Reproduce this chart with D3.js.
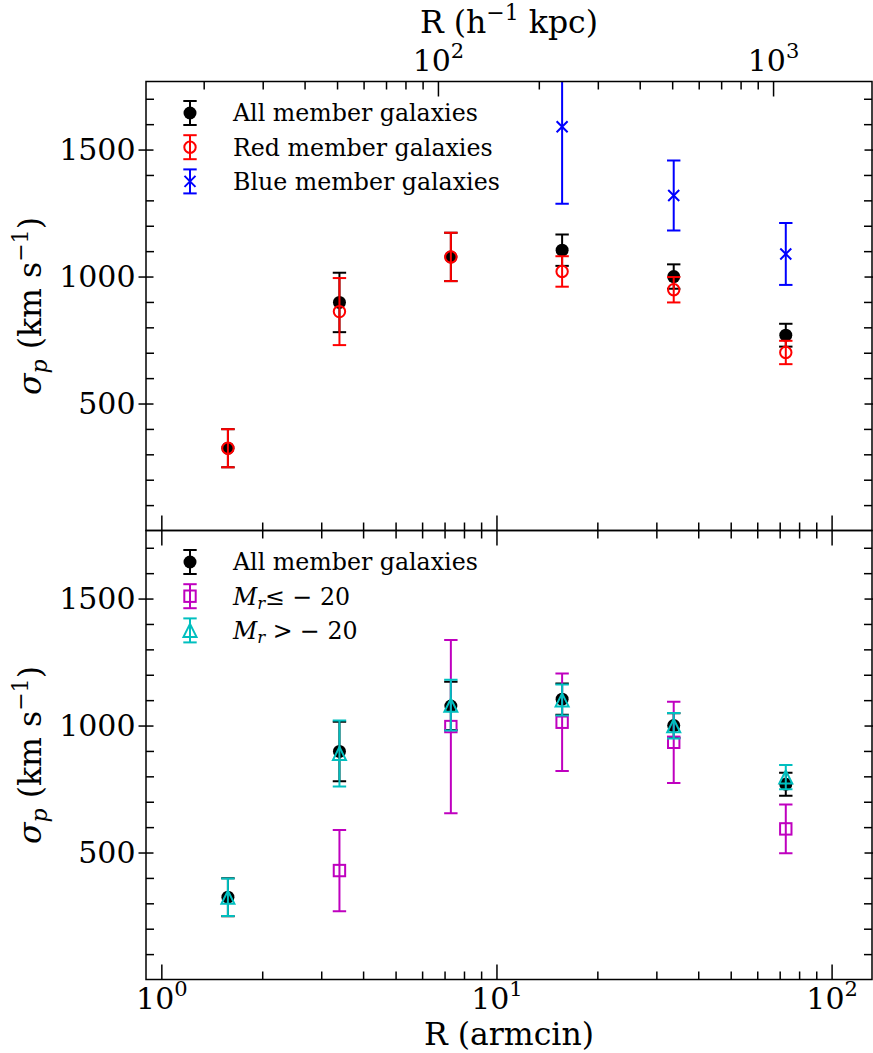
<!DOCTYPE html>
<html>
<head>
<meta charset="utf-8">
<script src="https://cdn.jsdelivr.net/npm/d3@7"></script>
<style>
  body { margin: 0; background: #fff; }
  svg { display: block; font-family: "DejaVu Serif", serif; }
</style>
</head>
<body>
<svg id="chart" width="873" height="1053"></svg>
<script>
// radial bins, projected radius in arcmin
const radiusArcmin = [1.58, 3.40, 7.31, 15.7, 33.8, 73.0];

// velocity dispersion (km/s) and 1-sigma errors per bin
const allSigma = [324, 898, 1077, 1104, 1000, 769];
const allErr = [75, 117, 95, 62, 48, 45];
const redSigma = [324, 862, 1077, 1020, 948, 701];
const redErr = [75, 132, 95, 60, 50, 46];
// blue members only populate the outer three bins
const blueRadius = radiusArcmin.slice(3);
const blueSigma = [1590, 1319, 1089];
const blueErr = [303, 138, 122];
// bright members (M_r <= -20) start at the second bin
const brightRadius = radiusArcmin.slice(1);
const brightSigma = [429, 996, 1013, 934, 593];
const brightErr = [160, 341, 192, 160, 96];
const faintSigma = [324, 890, 1080, 1101, 999, 797];
const faintErr = [74, 130, 100, 61, 50, 48];

// arcmin -> h^-1 kpc, for the secondary axis
const kpcPerArcmin = 14.95;

const arcminMajor = [1, 10, 100];
const kpcMajor = [100, 1000];
const sigmaMajor = [500, 1000, 1500];
const sigmaMinor = d3.range(100, 1800, 100).filter((v) => !sigmaMajor.includes(v));

const svg = d3.select("#chart");
const plotLeft = 146;
const plotRight = 872;
const panels = [
  { top: 81.5, bottom: 530.5 },
  { top: 530.5, bottom: 979.5 },
];
const sigmaDomain = [0, 1768];
const fontTick = 30;
const fontTitle = 31.5;
const fontLegend = 23.7;

const x = d3.scaleLog().domain([0.9, 132]).range([plotLeft, plotRight]);
const xKpc = d3
  .scaleLog()
  .domain(x.domain().map((d) => d * kpcPerArcmin))
  .range(x.range());

const topSeries = [
  { label: "All member galaxies", radius: radiusArcmin, sigma: allSigma, err: allErr, color: "#000000", marker: "dot" },
  { label: "Red member galaxies", radius: radiusArcmin, sigma: redSigma, err: redErr, color: "#ff0000", marker: "ring" },
  { label: "Blue member galaxies", radius: blueRadius, sigma: blueSigma, err: blueErr, color: "#0000ff", marker: "cross" },
];
const bottomSeries = [
  { label: "All member galaxies", radius: radiusArcmin, sigma: allSigma, err: allErr, color: "#000000", marker: "dot" },
  { label: "\u2264 \u2212 20", mag: true, radius: brightRadius, sigma: brightSigma, err: brightErr, color: "#bf00bf", marker: "square" },
  { label: " > \u2212 20", mag: true, radius: radiusArcmin, sigma: faintSigma, err: faintErr, color: "#00bfbf", marker: "triangle" },
];

/* draw one marker symbol centred on the current group */
function drawMarker(g, type, color) {
  if (type === "dot") {
    g.append("circle").attr("r", 6.5).attr("fill", color);
  } else if (type === "ring") {
    g.append("circle").attr("r", 5.7).attr("fill", "none").attr("stroke", color).attr("stroke-width", 2);
  } else if (type === "cross") {
    g.append("path").attr("d", "M-5.5,-5.5L5.5,5.5M-5.5,5.5L5.5,-5.5").attr("stroke", color).attr("stroke-width", 2);
  } else if (type === "square") {
    g.append("rect").attr("x", -5.7).attr("y", -5.7).attr("width", 11.4).attr("height", 11.4)
      .attr("fill", "none").attr("stroke", color).attr("stroke-width", 2);
  } else if (type === "triangle") {
    g.append("path").attr("d", "M0,-6.5L6.5,6.5L-6.5,6.5Z")
      .attr("fill", "none").attr("stroke", color).attr("stroke-width", 2);
  }
}

/* vertical error bar with caps, from y1 to y2 at cx */
function drawBar(g, cx, y1, y2, color) {
  g.append("line").attr("x1", cx).attr("x2", cx).attr("y1", y1).attr("y2", y2)
    .attr("stroke", color).attr("stroke-width", 2);
  [y1, y2].forEach((yy) => {
    g.append("line").attr("x1", cx - 6.7).attr("x2", cx + 6.7).attr("y1", yy).attr("y2", yy)
      .attr("stroke", color).attr("stroke-width", 2);
  });
}

/* label major log ticks as 10^n */
function powerLabels(axisG, size) {
  axisG.selectAll(".tick text").each(function (d) {
    const t = d3.select(this).text(null);
    t.append("tspan").text("10");
    t.append("tspan").text(Math.round(Math.log10(d))).attr("font-size", size * 0.7).attr("dy", -size * 0.42);
  });
}

function isMajor(v, majors) {
  return majors.some((m) => Math.abs(m - v) / m < 1e-6);
}

function tickFont(g) {
  g.attr("font-family", "DejaVu Serif").attr("font-size", fontTick);
}

/* x ticks on one spine, minor + major, inward */
function drawXTicks(scale, majors, yPos, orient, withLabels) {
  const axisFn = orient === "bottom" ? d3.axisBottom : d3.axisTop;
  const [d0, d1] = scale.domain();
  const minors = scale.ticks().filter((v) => v > d0 * 1.001 && v < d1 * 0.999 && !isMajor(v, majors));
  svg.append("g")
    .attr("transform", `translate(0,${yPos})`)
    .call(axisFn(scale).tickValues(minors).tickSize(-8).tickFormat(""))
    .call((g) => g.select(".domain").remove())
    .selectAll("line").attr("stroke-width", 1.5);
  const majorG = svg.append("g")
    .attr("transform", `translate(0,${yPos})`)
    .call(axisFn(scale).tickValues(majors).tickSize(-15).tickPadding(orient === "bottom" ? 8 : 11).tickFormat(""))
    .call((g) => g.select(".domain").remove())
    .call(tickFont);
  majorG.selectAll("line").attr("stroke-width", 1.5);
  if (withLabels) powerLabels(majorG, fontTick);
  else majorG.selectAll("text").remove();
}

/* one stacked panel: frame, ticks, error bars, legend */
function drawPanel(panel, series, index) {
  const y = d3.scaleLinear().domain(sigmaDomain).range([panel.bottom, panel.top]);
  const clipId = `clip-${index}`;
  svg.append("clipPath").attr("id", clipId)
    .append("rect")
    .attr("x", plotLeft).attr("y", panel.top)
    .attr("width", plotRight - plotLeft).attr("height", panel.bottom - panel.top);

  // left: major ticks cross the spine, minors point inward
  svg.append("g")
    .attr("transform", `translate(${plotLeft + 7.5},0)`)
    .call(d3.axisLeft(y).tickValues(sigmaMajor).tickSize(15).tickPadding(3).tickFormat(d3.format("d")))
    .call((g) => g.select(".domain").remove())
    .call(tickFont)
    .selectAll("line").attr("stroke-width", 1.5);
  svg.append("g")
    .attr("transform", `translate(${plotLeft},0)`)
    .call(d3.axisLeft(y).tickValues(sigmaMinor).tickSize(-8).tickFormat(""))
    .call((g) => g.select(".domain").remove())
    .selectAll("line").attr("stroke-width", 1.5);
  // right side mirrors the left, no labels
  svg.append("g")
    .attr("transform", `translate(${plotRight - 7.5},0)`)
    .call(d3.axisRight(y).tickValues(sigmaMajor).tickSize(15).tickFormat(""))
    .call((g) => g.select(".domain").remove())
    .selectAll("line").attr("stroke-width", 1.5);
  svg.append("g")
    .attr("transform", `translate(${plotRight},0)`)
    .call(d3.axisRight(y).tickValues(sigmaMinor).tickSize(-8).tickFormat(""))
    .call((g) => g.select(".domain").remove())
    .selectAll("line").attr("stroke-width", 1.5);

  // x ticks: top panel carries the kpc axis on its top spine
  if (index === 0) {
    drawXTicks(xKpc, kpcMajor, panel.top, "top", true);
    drawXTicks(x, arcminMajor, panel.bottom, "bottom", false);
  } else {
    drawXTicks(x, arcminMajor, panel.top, "top", false);
    drawXTicks(x, arcminMajor, panel.bottom, "bottom", true);
  }

  // error bars
  const dataG = svg.append("g").attr("clip-path", `url(#${clipId})`);
  series.forEach((s) => {
    const pts = s.radius.map((r, i) => ({ r, v: s.sigma[i], e: s.err[i] }));
    const sg = dataG.append("g");
    pts.forEach((d) => drawBar(sg, x(d.r), y(d.v - d.e), y(d.v + d.e), s.color));
    sg.selectAll("g.marker")
      .data(pts)
      .join("g")
      .attr("class", "marker")
      .attr("transform", (d) => `translate(${x(d.r)},${y(d.v)})`)
      .each(function () {
        drawMarker(d3.select(this), s.marker, s.color);
      });
  });

  // frame
  svg.append("rect")
    .attr("x", plotLeft).attr("y", panel.top)
    .attr("width", plotRight - plotLeft).attr("height", panel.bottom - panel.top)
    .attr("fill", "none").attr("stroke", "#000").attr("stroke-width", 1.5);

  // legend
  const legendTop = panel.top + 31.5;
  series.forEach((s, i) => {
    const rowY = legendTop + i * 34.2;
    const lg = svg.append("g");
    drawBar(lg, 190, rowY - 12, rowY + 12, s.color);
    const mg = lg.append("g").attr("transform", `translate(190,${rowY})`);
    drawMarker(mg, s.marker, s.color);
    const t = lg.append("text")
      .attr("x", 233).attr("y", rowY + 8.3)
      .attr("font-size", fontLegend);
    if (!s.mag) t.text(s.label);
    else {
      t.append("tspan").text("M").attr("font-style", "italic");
      t.append("tspan").text("r").attr("font-style", "italic")
        .attr("font-size", fontLegend * 0.7).attr("dy", fontLegend * 0.2);
      t.append("tspan").text(s.label).attr("dy", -fontLegend * 0.2);
    }
  });

  // y axis title
  const ty = svg.append("text")
    .attr("transform", `translate(41,${(panel.top + panel.bottom) / 2}) rotate(-90)`)
    .attr("text-anchor", "middle")
    .attr("font-size", fontTitle);
  ty.append("tspan").text("\u03c3").attr("font-style", "italic");
  ty.append("tspan").text("p").attr("font-style", "italic")
    .attr("font-size", fontTitle * 0.7).attr("dy", fontTitle * 0.2);
  ty.append("tspan").text(" (km s").attr("dy", -fontTitle * 0.2);
  ty.append("tspan").text("\u22121").attr("font-size", fontTitle * 0.7).attr("dy", -fontTitle * 0.4);
  ty.append("tspan").text(")").attr("dy", fontTitle * 0.4);
}

drawPanel(panels[0], topSeries, 0);
drawPanel(panels[1], bottomSeries, 1);

// axis titles for the shared radius axes
const topTitle = svg.append("text")
  .attr("x", (plotLeft + plotRight) / 2).attr("y", 33)
  .attr("text-anchor", "middle").attr("font-size", fontTitle);
topTitle.append("tspan").text("R (h");
topTitle.append("tspan").text("\u22121").attr("font-size", fontTitle * 0.7).attr("dy", -fontTitle * 0.4);
topTitle.append("tspan").text(" kpc)").attr("dy", fontTitle * 0.4);

svg.append("text")
  .attr("x", (plotLeft + plotRight) / 2).attr("y", 1045)
  .attr("text-anchor", "middle").attr("font-size", fontTitle)
  .text("R (armcin)");
</script>
</body>
</html>
